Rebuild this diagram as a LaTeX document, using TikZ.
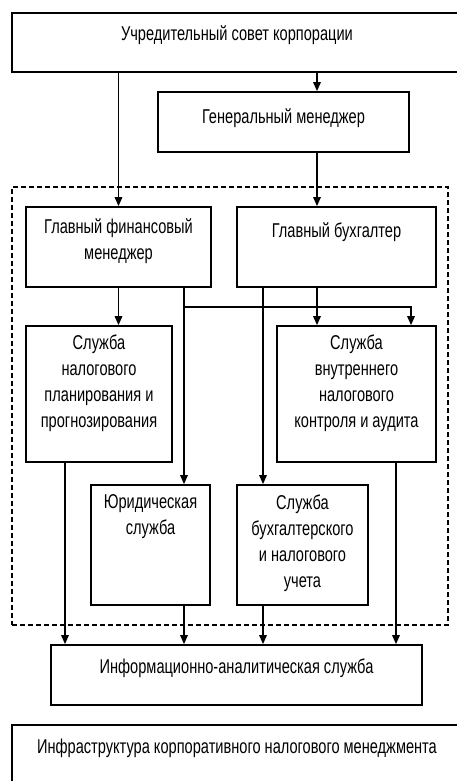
\documentclass[tikz,border=0pt]{standalone}
\usepackage{fontspec}
\setmainfont[FakeStretch=0.73]{Liberation Sans}
\usetikzlibrary{arrows.meta,calc}
\begin{document}
\begin{tikzpicture}[x=1pt,y=-1pt,
  box/.style={draw, line width=1.7pt, inner sep=0pt},
  zonebox/.style={draw, line width=1.3pt, dash pattern=on 5pt off 3pt, inner sep=0pt},
  txt/.style={inner sep=0pt, align=center, anchor=north, font=\fontsize{20}{26}\selectfont,
    execute at begin node={\rule{0pt}{20pt}}},
  arr/.style={line width=1.5pt, -{Triangle[length=9pt,width=7.5pt]}}
]
\useasboundingbox (0,0) rectangle (457,781);
% boxes
\node[box, minimum width=450, minimum height=59] (uc) at (237,42.5) {};
\node[box, minimum width=251, minimum height=60] (gm) at (283.5,122) {};
\node[zonebox, minimum width=436, minimum height=438] (zone) at (230,406) {};
\node[box, minimum width=185, minimum height=80] (gfm) at (118.5,247) {};
\node[box, minimum width=199, minimum height=80] (gb) at (336.5,247) {};
\node[box, minimum width=146, minimum height=136] (snp) at (99,394) {};
\node[box, minimum width=159, minimum height=136] (svk) at (356.5,394) {};
\node[box, minimum width=119, minimum height=120] (yur) at (150.5,545) {};
\node[box, minimum width=131, minimum height=120] (sbu) at (302.5,545) {};
\node[box, minimum width=371, minimum height=60] (ias) at (236.5,675) {};
\node[box, minimum width=450, minimum height=65] (inf) at (237,757.5) {};
% texts (north = first baseline - 20)
\node[txt] (tuc) at ($(uc.north)+(0,8)$) {Учредительный совет корпорации};
\node[txt] (tgm) at ($(gm.north)+(0,12)$) {Генеральный менеджер};
\node[txt] (tgfm) at ($(gfm.north)+(0,12)$) {Главный финансовый\\менеджер};
\node[txt] (tgb) at ($(gb.north)+(0,11)$) {Главный бухгалтер};
\node[txt] (tsnp) at ($(snp.north)+(0,9)$) {Служба\\налогового\\планирования и\\прогнозирования};
\node[txt] (tsvk) at ($(svk.north)+(0,9)$) {Служба\\внутреннего\\налогового\\контроля и аудита};
\node[txt] (tyur) at ($(yur.north)+(0,10)$) {Юридическая\\служба};
\node[txt] (tsbu) at ($(sbu.north)+(0,10)$) {Служба\\бухгалтерского\\и налогового\\учета};
\node[txt] (tias) at ($(ias.north)+(0,9)$) {Информационно-аналитическая служба};
\node[txt] (tinf) at ($(inf.north)+(0,9)$) {Инфраструктура корпоративного налогового менеджмента};
% connectors
\draw[arr] (uc.south -| gfm.north) -- (gfm.north);
\draw[arr] (uc.south -| 317,0) -- (gm.north -| 317,0);
\draw[arr] (gm.south -| 317,0) -- (gb.north -| 317,0);
\draw[arr] (gfm.south -| 118.5,0) -- (snp.north -| 118.5,0);
\draw[arr] (gfm.south -| 184,0) -- (yur.north -| 184,0);
\coordinate (br) at (184,307);
\draw[arr] (br) -| (svk.north -| 411,0);
\draw[arr] (gb.south -| 263,0) -- (sbu.north -| 263,0);
\draw[arr] (gb.south -| 317,0) -- (svk.north -| 317,0);
\draw[arr] (snp.south -| 65,0) -- (ias.north -| 65,0);
\draw[arr] (yur.south -| 184,0) -- (ias.north -| 184,0);
\draw[arr] (sbu.south -| 263,0) -- (ias.north -| 263,0);
\draw[arr] (svk.south -| 396,0) -- (ias.north -| 396,0);
\end{tikzpicture}
\end{document}
